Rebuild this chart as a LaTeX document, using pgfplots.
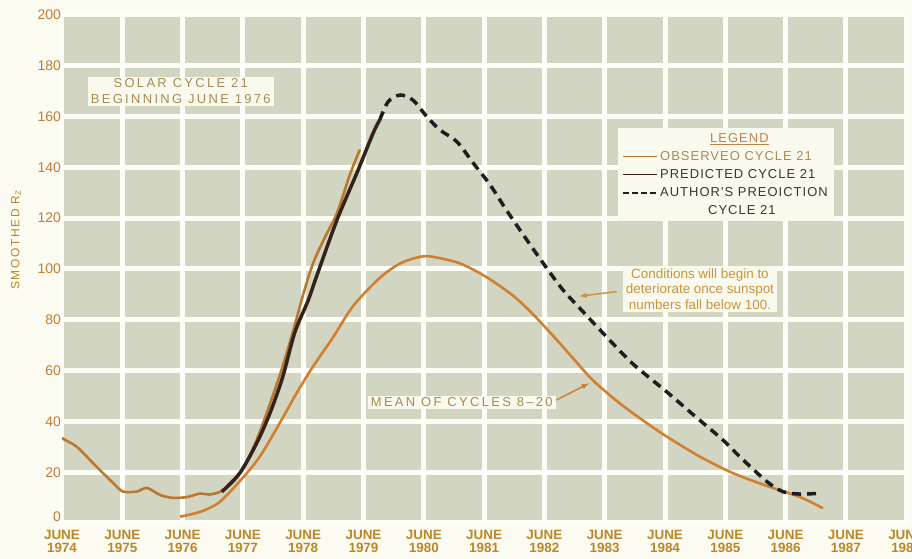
\documentclass[border=0pt]{standalone}
\usepackage{fontspec}
\setmainfont{Liberation Sans}
\newfontfamily\spaced[LetterSpace=8]{Liberation Sans}
\newfontfamily\wide[LetterSpace=18]{Liberation Sans}
\newfontfamily\wider[LetterSpace=14]{Liberation Sans}
\usepackage{pgfplots}
\pgfplotsset{compat=1.18}
\definecolor{pagebg}{HTML}{FBFBF2}
\definecolor{cellbg}{HTML}{D3D5C3}
\definecolor{gridw}{HTML}{FEFEF8}
\definecolor{tickor}{HTML}{C47C30}
\definecolor{xtickc}{HTML}{BC8628}
\definecolor{obs}{HTML}{B87830}
\definecolor{pred}{HTML}{33231A}
\definecolor{auth}{HTML}{1E1E1E}
\definecolor{meanc}{HTML}{D08030}
\definecolor{boxbg}{HTML}{FAF9EE}
\definecolor{tantext}{HTML}{A88A55}
\definecolor{condtext}{HTML}{C8943C}
\definecolor{legor}{HTML}{C0804A}
\definecolor{darktext}{HTML}{3A3530}
\begin{document}
\begin{tikzpicture}
\fill[pagebg] (-62bp,-36bp) rectangle (850bp,523bp);
\begin{axis}[
  at={(0,0)}, anchor=south west,
  scale only axis, width=844.2bp, height=508bp,
  xmin=0, xmax=14, ymin=0, ymax=200,
  axis background/.style={fill=cellbg},
  axis line style={draw=none},
  grid=major, major grid style={gridw, line width=5bp},
  xtick={0,...,14}, ytick={20,40,...,200},
  extra y ticks={0},
  extra y tick style={yticklabel style={yshift=6bp}},
  tick style={draw=none},
  xticklabels={JUNE\\1974,JUNE\\1975,JUNE\\1976,JUNE\\1977,JUNE\\1978,JUNE\\1979,JUNE\\1980,JUNE\\1981,JUNE\\1982,JUNE\\1983,JUNE\\1984,JUNE\\1985,JUNE\\1986,JUNE\\1987,JUNE\\1988},
  xticklabel style={align=center, font=\bfseries\fontsize{13.5}{13.5}\selectfont, text=xtickc, inner sep=2bp, yshift=-5bp},
  yticklabel style={font=\fontsize{14}{15}\selectfont, text=tickor, inner xsep=1bp},
  /pgf/number format/assume math mode=true,
  legend image code/.code={\draw[#1] (0bp,0bp) -- (34bp,0bp);},
  legend style={at={(axis cs:9.22,155.5)}, anchor=north west, fill=boxbg, draw=none,
    font=\spaced\fontsize{13}{14}\selectfont, inner xsep=4bp, inner ysep=2bp,
    nodes={text height=10bp, text depth=3bp, inner sep=2bp}, row sep=1bp},
  legend cell align=left,
]
\addlegendimage{empty legend}
\addlegendentry{\hspace*{50bp}\textcolor{legor}{\underline{LEGEND}}}
\addlegendimage{obs, line width=1.5bp}
\addlegendentry{\textcolor{tantext}{OBSERVEO CYCLE 21}}
\addlegendimage{pred, line width=1.5bp}
\addlegendentry{\textcolor{darktext}{PREDICTED CYCLE 21}}
\addlegendimage{auth, line width=2bp, dash pattern=on 6bp off 3bp}
\addlegendentry{\textcolor{darktext}{AUTHOR'S PREOICTION}}
\addlegendimage{empty legend}
\addlegendentry{\hspace*{48bp}\textcolor{darktext}{CYCLE 21}}

% Mean of cycles 8-20
\addplot[meanc, line width=2.6bp, smooth, forget plot] coordinates {
(1.96,2.5)(2.29,4.4)(2.6,8)(2.95,16.5)(3.28,26.1)(3.61,39.3)(3.89,51.1)(4.16,61.5)(4.50,73.3)(4.83,85.5)(5.27,96.5)(5.61,102.2)(5.94,104.8)(6.15,104.8)(6.60,102.2)(7.04,96.8)(7.48,89.5)(7.81,82.2)(8.14,73.8)(8.47,65.0)(8.80,56.3)(9.25,47.1)(9.70,39.3)(10.03,34.0)(10.58,26.1)(11.13,19.6)(11.69,14.6)(12.24,10.2)(12.62,5.8)};
% Observed cycle 21
\addplot[obs, line width=2.6bp, smooth, forget plot] coordinates {
(0.0,33.5)(0.05,32.7)(0.25,29.9)(0.58,22.0)(0.85,15.7)(1.01,12.4)(1.24,12.4)(1.41,13.8)(1.63,11.0)(1.84,9.9)(2.07,10.2)(2.29,11.6)(2.45,11.2)(2.65,12.6)(2.85,16.5)(3.05,23.5)(3.25,34)(3.45,47)(3.65,61)(3.85,77)(4.0,90)(4.16,102)(4.35,112)(4.56,122)(4.78,137.5)(4.94,147)};
% Predicted cycle 21
\addplot[pred, line width=3.5bp, smooth, forget plot] coordinates {
(2.65,12.3)(2.95,19.7)(3.23,31.5)(3.45,43.3)(3.66,57.5)(3.86,75)(4.08,87.5)(4.22,97.0)(4.56,119.3)(4.89,137.8)(5.16,153.5)(5.27,158.7)};
% Author's prediction
\addplot[auth, line width=3.5bp, smooth, dash pattern=on 9bp off 6bp, forget plot] coordinates {
(5.27,158.7)(5.41,165.9)(5.61,168.5)(5.82,166.5)(6.05,160.0)(6.27,154.7)(6.55,150.1)(6.82,141.7)(7.10,133.1)(7.37,123.2)(7.71,111.4)(8.04,100.3)(8.31,91.7)(8.64,83.2)(9.03,73.3)(9.47,62.6)(10.03,51.6)(10.5,42)(10.96,32.7)(11.24,26.1)(11.69,16.3)(11.96,12.3)(12.24,11.4)(12.57,11.7)};

\node[fill=boxbg, align=center, text=tantext, font=\wide\fontsize{13}{16}\selectfont, inner xsep=3bp, inner ysep=2bp] at (axis cs:1.97,169.9) {SOLAR CYCLE 21\\BEGINNING JUNE 1976};
\node[fill=boxbg, text=tantext, font=\wide\fontsize{13}{14}\selectfont, inner xsep=3bp, inner ysep=2bp] at (axis cs:6.63,47.6) {MEAN OF CYCLES 8\textendash 20};
\node[fill=boxbg, align=center, text=condtext, font=\fontsize{13.5}{15.5}\selectfont, inner xsep=3bp, inner ysep=3bp] at (axis cs:10.58,92.1) {Conditions will begin to\\deteriorate once sunspot\\numbers fall below 100.};
\draw[condtext, line width=1.5bp, -latex] (axis cs:9.2,91.1) -- (axis cs:8.58,89.3);
\draw[meanc, line width=1.5bp, -latex] (axis cs:8.2,48.4) -- (axis cs:8.74,55.0);
\end{axis}
\node[rotate=90, text=xtickc, font=\wider\fontsize{12}{13}\selectfont] at (-46bp,283bp) {SMOOTHED R\textsubscript{Z}};
\pgfresetboundingbox
\useasboundingbox (-62bp,-36bp) rectangle (850bp,523bp);
\end{tikzpicture}
\end{document}
